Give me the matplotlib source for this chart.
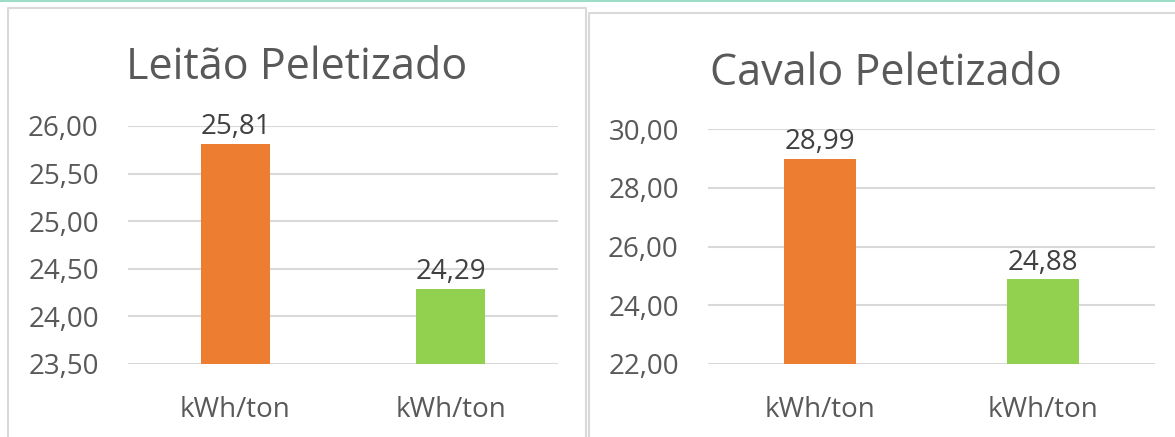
import matplotlib
matplotlib.use("Agg")
import matplotlib.pyplot as plt
from matplotlib.lines import Line2D
from matplotlib.ticker import FixedLocator

plt.rcParams['font.family'] = ['Open Sans', 'DejaVu Sans']

# ---- data ----
categories = ["kWh/ton", "kWh/ton"]
leitao_values = [25.81, 24.29]
cavalo_values = [28.99, 24.88]
leitao_title = "Leitão Peletizado"
cavalo_title = "Cavalo Peletizado"
leitao_ticks = [23.5, 24.0, 24.5, 25.0, 25.5, 26.0]
cavalo_ticks = [22.0, 24.0, 26.0, 28.0, 30.0]
bar_colors = ["#ED7D31", "#92D050"]

W, H = 1175, 437
fig = plt.figure(figsize=(W / 100, H / 100), dpi=100)
fig.patch.set_facecolor("white")

def fx(x):
    return x / W

def fy(y):
    return 1 - y / H

# teal line at the top
fig.add_artist(Line2D([0, 1], [fy(0.5), fy(0.5)], color="#9ddcc8", lw=1.5,
                      transform=fig.transFigure))
# panel borders
border = "#d9d9d9"
fig.add_artist(Line2D([fx(8), fx(8), fx(586), fx(586)],
                      [fy(440), fy(8), fy(8), fy(440)],
                      color=border, lw=1.5, transform=fig.transFigure))
fig.add_artist(Line2D([fx(589), fx(589), fx(1180)],
                      [fy(440), fy(13), fy(13)],
                      color=border, lw=1.5, transform=fig.transFigure))

text_color = "#595959"
label_color = "#404040"
grid_color = "#d9d9d9"


def make_panel(left, right, top, bottom, values, ticks, title, title_x, title_base):
    ax = fig.add_axes([fx(left), fy(bottom), fx(right) - fx(left), fy(top) - fy(bottom)])
    ax.set_facecolor("none")
    x = list(range(len(values)))
    bars = ax.bar(x, values, width=0.32, color=bar_colors, zorder=3)
    ax.set_xlim(-0.5, len(values) - 0.5)
    ax.set_ylim(ticks[0], ticks[-1])
    ax.yaxis.set_major_locator(FixedLocator(ticks))
    ax.set_yticklabels([f"{t:.2f}".replace(".", ",") for t in ticks])
    ax.set_xticks(x)
    ax.set_xticklabels(categories)
    for s in ax.spines.values():
        s.set_visible(False)
    ax.grid(axis="y", color=grid_color, lw=1.5, zorder=0)
    ax.set_axisbelow(True)
    ax.tick_params(axis="y", length=0, pad=21, labelsize=20, labelcolor=text_color)
    ax.tick_params(axis="x", length=0, pad=23, labelsize=20, labelcolor=text_color)
    for b, v in zip(bars, values):
        ax.annotate(f"{v:.2f}".replace(".", ","),
                    xy=(b.get_x() + b.get_width() / 2, v),
                    xytext=(0, 7), textcoords="offset points",
                    ha="center", va="baseline", fontsize=20, color=label_color)
    fig.text(fx(title_x), fy(title_base), title, ha="center", va="baseline",
             fontsize=31, color=text_color)
    return ax


make_panel(128, 558, 126, 364, leitao_values, leitao_ticks, leitao_title, 297, 79)
make_panel(708, 1155, 129, 364, cavalo_values, cavalo_ticks, cavalo_title, 886, 85)

fig.savefig("out.png", dpi=100, facecolor="white")
